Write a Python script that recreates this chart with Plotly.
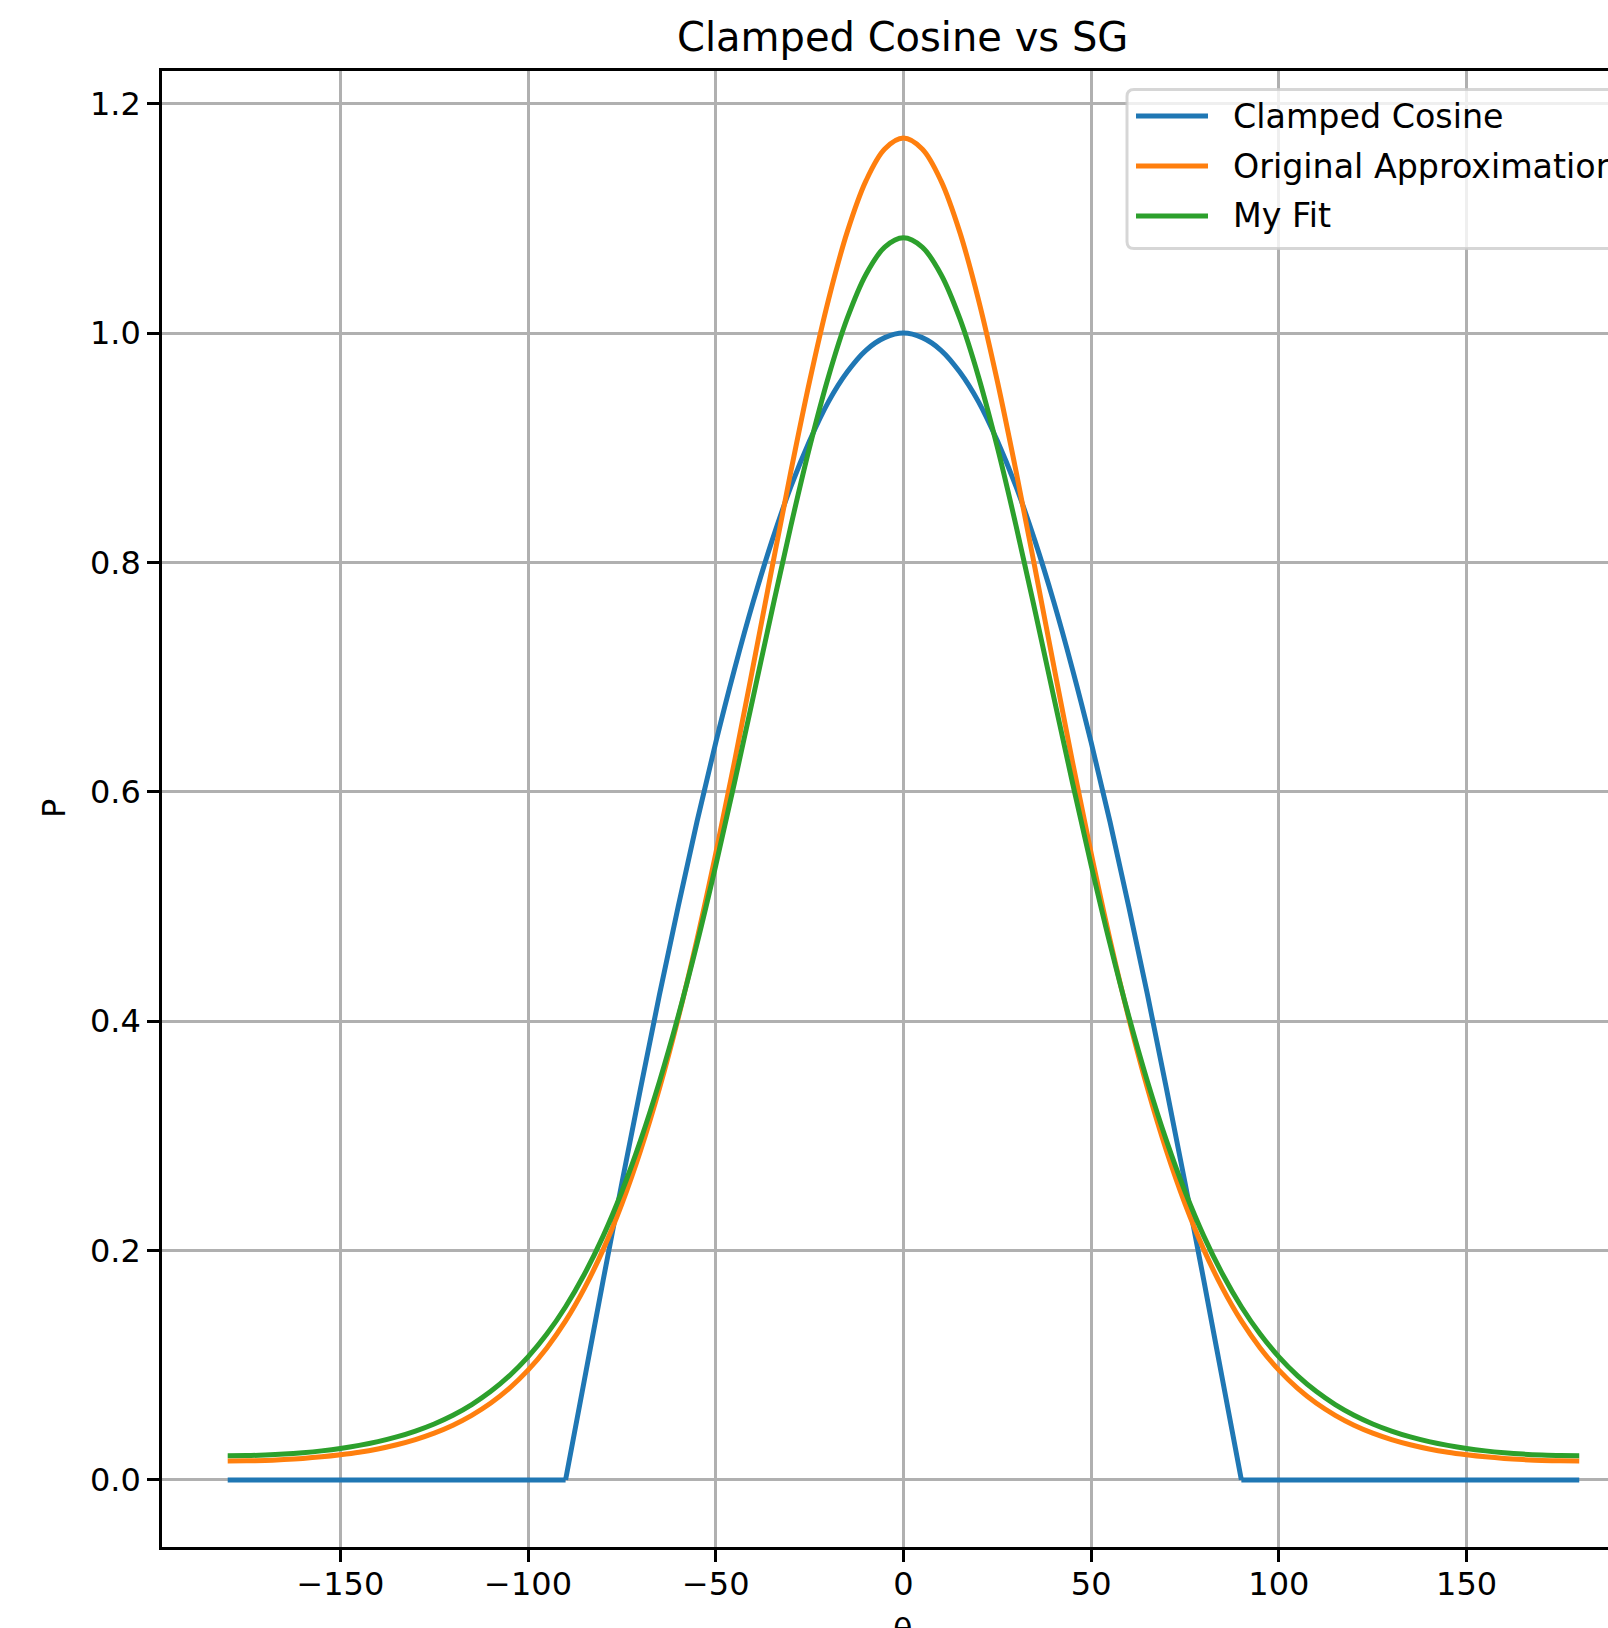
import plotly.graph_objects as go

# Sample angles in degrees
theta = [
    -180, -175, -170, -165, -160, -155, -150, -145, -140, -135, -130, -125,
    -120, -115, -110, -105, -100, -95, -90, -85, -80, -75, -70, -65, -60,
    -55, -50, -45, -40, -35, -30, -25, -20, -15, -10, -5, 0, 5, 10, 15, 20,
    25, 30, 35, 40, 45, 50, 55, 60, 65, 70, 75, 80, 85, 90, 95, 100, 105,
    110, 115, 120, 125, 130, 135, 140, 145, 150, 155, 160, 165, 170, 175, 180,
]

clamped_cosine = [
    0, 0, 0, 0, 0, 0, 0, 0, 0, 0, 0, 0, 0, 0, 0, 0, 0, 0, 0,
    0.087, 0.174, 0.259, 0.342, 0.423, 0.500, 0.574, 0.643, 0.707, 0.766,
    0.819, 0.866, 0.906, 0.940, 0.966, 0.985, 0.996, 1.000,
    0.996, 0.985, 0.966, 0.940, 0.906, 0.866, 0.819, 0.766, 0.707, 0.643,
    0.574, 0.500, 0.423, 0.342, 0.259, 0.174, 0.087,
    0, 0, 0, 0, 0, 0, 0, 0, 0, 0, 0, 0, 0, 0, 0, 0, 0, 0, 0,
]

original_approx = [
    0.0164, 0.0166, 0.0170, 0.0177, 0.0187, 0.0201, 0.0219, 0.0241, 0.0270,
    0.0307, 0.0352, 0.0408, 0.0477, 0.0563, 0.0668, 0.0798, 0.0957, 0.1151,
    0.1386, 0.1670, 0.2008, 0.2408, 0.2875, 0.3414, 0.4027, 0.4712, 0.5461,
    0.6264, 0.7103, 0.7955, 0.8792, 0.9581, 1.0288, 1.0880, 1.1327, 1.1605,
    1.1700,
    1.1605, 1.1327, 1.0880, 1.0288, 0.9581, 0.8792, 0.7955, 0.7103, 0.6264,
    0.5461, 0.4712, 0.4027, 0.3414, 0.2875, 0.2408, 0.2008, 0.1670, 0.1386,
    0.1151, 0.0957, 0.0798, 0.0668, 0.0563, 0.0477, 0.0408, 0.0352, 0.0307,
    0.0270, 0.0241, 0.0219, 0.0201, 0.0187, 0.0177, 0.0170, 0.0166, 0.0164,
]

my_fit = [
    0.0211, 0.0212, 0.0217, 0.0225, 0.0237, 0.0253, 0.0274, 0.0301, 0.0334,
    0.0375, 0.0426, 0.0488, 0.0564, 0.0657, 0.0770, 0.0907, 0.1073, 0.1272,
    0.1510, 0.1793, 0.2126, 0.2515, 0.2963, 0.3473, 0.4044, 0.4675, 0.5358,
    0.6082, 0.6831, 0.7584, 0.8318, 0.9005, 0.9617, 1.0127, 1.0511, 1.0749,
    1.0830,
    1.0749, 1.0511, 1.0127, 0.9617, 0.9005, 0.8318, 0.7584, 0.6831, 0.6082,
    0.5358, 0.4675, 0.4044, 0.3473, 0.2963, 0.2515, 0.2126, 0.1793, 0.1510,
    0.1272, 0.1073, 0.0907, 0.0770, 0.0657, 0.0564, 0.0488, 0.0426, 0.0375,
    0.0334, 0.0301, 0.0274, 0.0253, 0.0237, 0.0225, 0.0217, 0.0212, 0.0211,
]

series_names = ["Clamped Cosine", "Original Approximation", "My Fit"]
series_colors = ["#1f77b4", "#ff7f0e", "#2ca02c"]
x_ticks = [-150, -100, -50, 0, 50, 100, 150]
y_ticks = [0.0, 0.2, 0.4, 0.6, 0.8, 1.0, 1.2]

FONT = "DejaVu Sans"
FIG_W, FIG_H = 1608, 1628
M_L, M_R, M_T, M_B = 162, 0, 71, 81
PLOT_W = FIG_W - M_L - M_R
PLOT_H = FIG_H - M_T - M_B


def px_x(px):
    return (px - M_L) / PLOT_W


def px_y(py):
    return (FIG_H - M_B - py) / PLOT_H


fig = go.Figure()

# Clamped cosine: straight zero tails, smooth lobe between the kinks at +-90
lobe = [i for i, t in enumerate(theta) if -90 <= t <= 90]
left_tail = [i for i, t in enumerate(theta) if t <= -90]
right_tail = [i for i, t in enumerate(theta) if t >= 90]
for idx, shape in [(left_tail, "linear"), (lobe, "spline"), (right_tail, "linear")]:
    fig.add_trace(go.Scatter(
        x=[theta[i] for i in idx], y=[clamped_cosine[i] for i in idx],
        name=series_names[0], mode="lines",
        line=dict(color=series_colors[0], width=5, shape=shape, smoothing=1.0),
        showlegend=False,
    ))

for name, ys, color in zip(series_names[1:], [original_approx, my_fit], series_colors[1:]):
    fig.add_trace(go.Scatter(
        x=theta, y=ys, name=name, mode="lines",
        line=dict(color=color, width=5, shape="spline", smoothing=1.0),
        showlegend=False,
    ))

axis_common = dict(
    showgrid=True, gridcolor="#b0b0b0", gridwidth=2.6,
    zeroline=False, showline=True, linecolor="black", linewidth=2.6,
    ticks="outside", ticklen=12, tickwidth=2.6, tickcolor="black",
    tickfont=dict(family=FONT, size=32, color="black"),
)

fig.update_xaxes(range=[-197.5, 187.66], tickvals=x_ticks, mirror=True,
                 ticklabelstandoff=-5, **axis_common)
fig.update_yaxes(range=[-0.0585, 1.2285], tickvals=y_ticks, tickformat=".1f",
                 mirror=False, **axis_common)

# Legend frame (rounded on the visible left side)
lx0, lx1, ly0, ly1, r = 1127, 1700, 89.5, 248.5, 7
path = (
    f"M {px_x(lx1)},{px_y(ly0)} L {px_x(lx0 + r)},{px_y(ly0)} "
    f"Q {px_x(lx0)},{px_y(ly0)} {px_x(lx0)},{px_y(ly0 + r)} "
    f"L {px_x(lx0)},{px_y(ly1 - r)} "
    f"Q {px_x(lx0)},{px_y(ly1)} {px_x(lx0 + r)},{px_y(ly1)} "
    f"L {px_x(lx1)},{px_y(ly1)} Z"
)
shapes = [dict(type="path", xref="paper", yref="paper", path=path,
               fillcolor="rgba(255,255,255,0.8)",
               line=dict(color="rgba(204,204,204,0.8)", width=3), layer="above")]
annotations = []
entry_y = [116, 166, 216]
for name, color, ey in zip(series_names, series_colors, entry_y):
    shapes.append(dict(type="line", xref="paper", yref="paper",
                       x0=px_x(1136), x1=px_x(1208), y0=px_y(ey), y1=px_y(ey),
                       line=dict(color=color, width=5), layer="above"))
    annotations.append(dict(xref="paper", yref="paper", x=px_x(1231), y=px_y(ey),
                            xanchor="left", yanchor="middle", showarrow=False,
                            text=name, font=dict(family=FONT, size=33.3, color="black")))

# Title, axis labels
annotations.append(dict(xref="paper", yref="paper", x=px_x(903), y=1,
                        xanchor="center", yanchor="bottom", yshift=9, showarrow=False,
                        text="Clamped Cosine vs SG",
                        font=dict(family=FONT, size=40, color="black")))
annotations.append(dict(xref="paper", yref="paper", x=px_x(54), y=0.5,
                        xanchor="center", yanchor="middle", showarrow=False,
                        textangle=-90, text="P",
                        font=dict(family=FONT, size=32, color="black")))
annotations.append(dict(xref="paper", yref="paper", x=px_x(903), y=0,
                        xanchor="center", yanchor="top", yshift=-62, showarrow=False,
                        text="θ", font=dict(family=FONT, size=32, color="black")))

fig.update_layout(
    width=FIG_W, height=FIG_H,
    margin=dict(l=M_L, r=M_R, t=M_T, b=M_B, pad=0),
    plot_bgcolor="white", paper_bgcolor="white",
    shapes=shapes, annotations=annotations,
    showlegend=False,
)

fig.write_html("out.html")
